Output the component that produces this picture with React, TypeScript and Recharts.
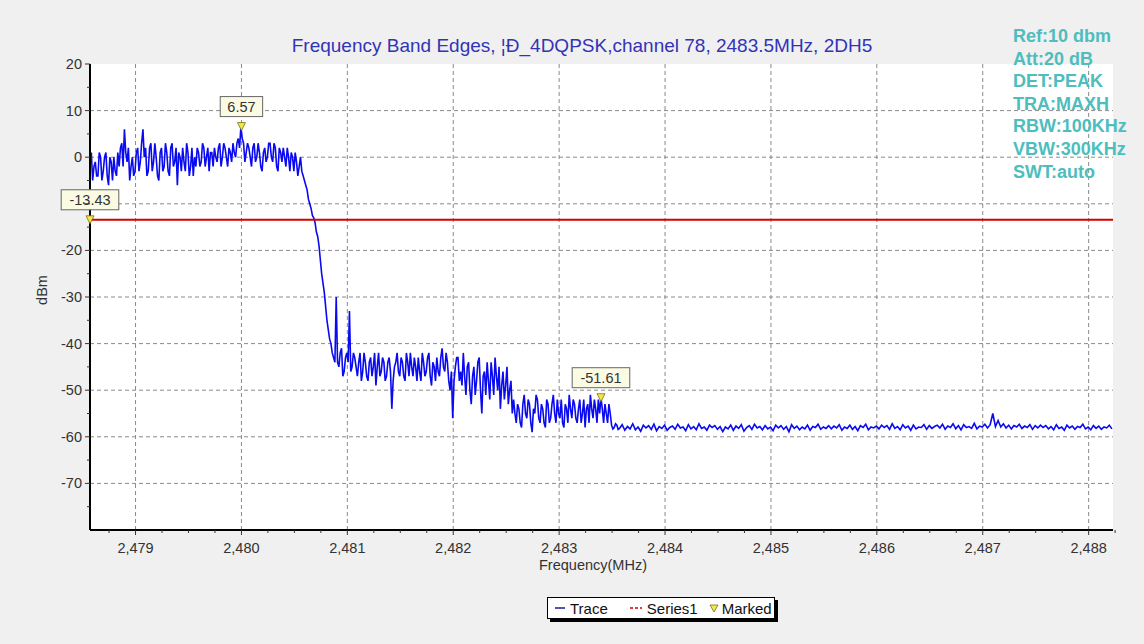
import React from 'react';
import { ComposedChart, Line, XAxis, YAxis, ReferenceLine, ReferenceDot, ReferenceArea } from 'recharts';

// sweep: fixed step spectrum analyzer points
const sweepStart = 2478.57;
const sweepStep = 0.025;

// trace values (dBm), 20 points per row (0.5 MHz)
const traceDbm = [
  -2, -5, -1, -4, 0, -3, 1, -6, -1, 0, -4, -2, 3, 6, -1, -5, 0, -3, 2, -1,
  6, 2, -3, 3, -1, 0, -5, 2, -2, 1, -4, 3, -1, -6, 0, 2, -3, 1, -2, -4,
  -2, 1, -1, 2, 0, -3, 1, 2, -1, 3, 0, 2, -2, 1, 3, 0, 4, 6.57, 3, 1,
  2, -2, 3, 0, 1, -3, 2, 0, 3, -1, 2, -3, 1, 2, -2, 0, 1, -3, -1, -2,
  -3, -5, -7, -10, -12.5, -14, -17, -22, -27, -32, -37, -40, -43, -30, -45, -41, -46, -42, -33, -45,
  -43, -47, -42, -46, -44, -48, -43, -45, -49, -42, -46, -44, -47, -43, -54, -45, -42, -47, -44, -48,
  -44, -42, -47, -45, -43, -48, -44, -46, -42, -49, -45, -43, -47, -41, -46, -44, -50, -56, -45, -43,
  -46, -42, -51, -44, -53, -45, -48, -43, -55, -46, -44, -52, -47, -43, -50, -54, -46, -49, -53, -48,
  -52, -57, -54, -58, -51, -56, -53, -59, -55, -52, -57, -54, -58, -53, -56, -51, -57, -55, -52, -58,
  -54, -51, -56, -53, -57, -52, -55, -58, -53, -51, -56, -54, -52, -51.61, -57, -55, -53, -57.5, -58, -57.5,
  -58.2, -57.4, -58.6, -57.8, -58.3, -57.2, -58.5, -57.9, -58.8, -57.5, -58.1, -57.6, -58.4, -57.3, -58.7, -57.8, -58.2, -57.5, -58.6, -58.0,
  -57.7, -58.4, -57.3, -58.1, -57.9, -58.7, -57.4, -58.3, -57.8, -58.5, -57.2, -58.2, -57.9, -58.6, -57.5, -58.0, -57.6, -58.4, -57.8, -58.9,
  -57.9, -58.3, -57.5, -58.6, -57.7, -58.2, -57.4, -58.8, -58.0, -57.6, -58.4, -57.3, -58.1, -57.8, -58.5, -57.6, -58.3, -57.9, -58.7, -57.5,
  -58.1, -57.6, -58.4, -57.8, -58.9, -57.4, -58.2, -57.7, -58.5, -57.9, -58.3, -57.5, -58.6, -57.8, -58.0, -57.3, -58.4, -57.9, -58.2, -57.6,
  -58.3, -57.7, -58.1, -57.4, -58.6, -57.9, -58.2, -57.5, -58.4, -57.8, -58.7, -57.6, -58.0, -57.3, -58.5, -57.9, -58.1, -57.7, -58.3, -57.5,
  -58.0, -57.6, -58.4, -57.2, -58.2, -57.8, -58.5, -57.4, -58.1, -57.7, -58.6, -57.5, -58.3, -57.9, -58.0, -57.4, -58.4, -57.6, -58.2, -57.8,
  -57.5, -58.1, -57.3, -58.4, -57.7, -58.0, -57.2, -58.3, -57.6, -58.5, -57.4, -58.0, -57.8, -58.2, -57.1, -58.3, -57.7, -57.9, -57.3, -58.1,
  -57.4, -55.0, -57.8, -56.5, -57.9, -57.2, -58.1, -57.5, -58.3, -57.6, -57.9, -57.3, -58.2, -57.7, -58.0, -57.4, -58.4, -57.6, -58.1, -57.5,
  -58.0, -57.6, -58.3, -57.8, -58.5, -57.4, -58.2, -57.9, -58.6, -57.5, -58.1, -57.7, -58.4, -57.8, -58.0, -57.3, -58.3, -57.9, -58.5, -57.6,
  -58.2, -57.7, -58.4, -57.9, -58.1, -57.5, -58.3,
];

// extra half-step readings in the noisy part (2478.58..2483.56 MHz), one between each pair above
const traceMidDbm = [
  1, -2, -4, 1, -5, 0, -4, 0, -5, -3, 1, 2, -2, 1, 2, -2, -4, 1, -3, 3,
  0, -4, 2, -3, 3, -4, 1, -3, 3, -3, 2, -2, 2, 1, -3, -1, 3, -4, 2, 0,
  2, -2, 3, -2, 2, 1, -2, 0, 2, -2, 3, 0, 2, -1, 1, 3, 2, 4, -1, 3,
  0, 2, -1, 3, -2, 1, -1, 3, 0, 3, -2, 2, -1, 0, 2, -3, 0, 1, -4, 0,
  -4, -6, -9, -11, -13, -16, -19, -25, -29, -35, -39, -42, -44, -44, -42, -47, -43, -44, -46, -42,
  -45, -44, -48, -42, -47, -44, -47, -42, -45, -47, -43, -48, -44, -46, -48, -44, -46, -43, -47, -42,
  -47, -45, -43, -48, -46, -42, -47, -43, -47, -44, -48, -46, -43, -45, -42, -48, -46, -48, -43, -48,
  -49, -47, -45, -50, -47, -51, -44, -50, -47, -51, -48, -44, -51, -47, -45, -49, -52, -45, -50, -55,
  -55, -53, -57, -53, -55, -52, -57, -54, -51, -56, -53, -57, -52, -57, -53, -55, -52, -56, -57, -53,
  -57, -54, -52, -56, -54, -57, -52, -54, -57, -54, -52, -57, -55, -54, -53, -57, -55, -58.3, -57.2, -58.4,
];

const limitDbm = -13.43;
const limitFreqs = [2478.57, 2488.23];

const markerFreqs = [2478.57, 2480.0, 2483.395];
const markerDbm = [-13.43, 6.57, -51.61];

const xMajor = [2479, 2480, 2481, 2482, 2483, 2484, 2485, 2486, 2487, 2488];
const xMinor = [
  2478.75, 2479.25, 2479.5, 2479.75, 2480.25, 2480.5, 2480.75, 2481.25, 2481.5, 2481.75,
  2482.25, 2482.5, 2482.75, 2483.25, 2483.5, 2483.75, 2484.25, 2484.5, 2484.75, 2485.25,
  2485.5, 2485.75, 2486.25, 2486.5, 2486.75, 2487.25, 2487.5, 2487.75, 2488.25,
];
const yMajor = [20, 10, 0, -10, -20, -30, -40, -50, -60, -70];
const yMinor = [15, 5, -5, -15, -25, -35, -45, -55, -65, -75];
// the -10 label sits under the -13.43 marker box in the original
const yHiddenLabels = [-10];

const infoLines = ['Ref:10 dbm', 'Att:20 dB', 'DET:PEAK', 'TRA:MAXH', 'RBW:100KHz', 'VBW:300KHz', 'SWT:auto'];

const FONT = 'Arial, "Liberation Sans", sans-serif';

const traceData = [
  ...traceDbm.map((v, i) => ({ f: sweepStart + i * sweepStep, v })),
  ...traceMidDbm.map((v, i) => ({ f: sweepStart + (i + 0.5) * sweepStep, v })),
].sort((a, b) => a.f - b.f);
const limitData = limitFreqs.map((f) => ({ f, v: limitDbm }));

const isMajorX = (v: number) => xMajor.some((m) => Math.abs(m - v) < 1e-6);
const isMajorY = (v: number) => yMajor.some((m) => Math.abs(m - v) < 1e-6);

const XTick = (props: any) => {
  const { x, y, payload } = props;
  const major = isMajorX(payload.value);
  return (
    <g>
      <line x1={x} x2={x} y1={y} y2={y + (major ? 5 : 3)} stroke="#333" strokeWidth={1} />
      {major && (
        <text x={x} y={y + 23} textAnchor="middle" fill="#333" fontSize={14.5} fontFamily={FONT}>
          {Math.round(payload.value).toLocaleString('en-US')}
        </text>
      )}
    </g>
  );
};

const YTick = (props: any) => {
  const { x, y, payload } = props;
  const major = isMajorY(payload.value);
  const showLabel = major && !yHiddenLabels.includes(payload.value);
  return (
    <g>
      <line x1={x} x2={x - (major ? 5 : 3)} y1={y} y2={y} stroke="#333" strokeWidth={1} />
      {showLabel && (
        <text x={x - 8} y={y + 5} textAnchor="end" fill="#333" fontSize={14.5} fontFamily={FONT}>
          {payload.value}
        </text>
      )}
    </g>
  );
};

const MarkerShape = (props: any) => {
  const { cx, cy, label } = props;
  const w = label.length * 7.6 + 12;
  return (
    <g>
      <rect x={cx - w / 2} y={cy - 30} width={w} height={20} fill="#fbfbe4" stroke="#666" strokeWidth={1} />
      <text x={cx} y={cy - 15} textAnchor="middle" fill="#333" fontSize={14.5} fontFamily={FONT}>
        {label}
      </text>
      <path d={`M${cx - 4},${cy - 4} L${cx + 4},${cy - 4} L${cx},${cy + 4} Z`} fill="#f2e84a" stroke="#776f10" strokeWidth={0.8} />
    </g>
  );
};

const LegendBox = () => (
  <div
    style={{
      position: 'absolute', left: 547, top: 597, width: 226, height: 20,
      background: '#fff', border: '1px solid #000', boxShadow: '3px 3px 0 #000',
      fontFamily: FONT, fontSize: 15, color: '#111', display: 'flex', alignItems: 'center',
    }}
  >
    <svg width={12} height={10} style={{ marginLeft: 6 }}><line x1={1} x2={11} y1={5} y2={5} stroke="#1a1aa0" strokeWidth={1.5} /></svg>
    <span style={{ marginLeft: 4 }}>Trace</span>
    <svg width={14} height={10} style={{ marginLeft: 21 }}><line x1={1} x2={13} y1={5} y2={5} stroke="#d00000" strokeWidth={1.5} strokeDasharray="3 2" /></svg>
    <span style={{ marginLeft: 4 }}>Series1</span>
    <svg width={10} height={10} style={{ marginLeft: 11 }}><path d="M1,2 L9,2 L5,9 Z" fill="#f2e84a" stroke="#776f10" strokeWidth={0.8} /></svg>
    <span style={{ marginLeft: 3 }}>Marked</span>
  </div>
);

export default function App() {
  return (
    <div style={{ position: 'absolute', left: 0, top: 0, width: 1144, height: 644, background: '#f0f0f0', overflow: 'hidden' }}>
      <ComposedChart width={1144} height={644} margin={{ top: 64, right: 31, bottom: 84, left: 0 }}>
        <ReferenceArea x1={2478.57} x2={2488.23} y1={-80} y2={20} fill="#ffffff" fillOpacity={1} stroke="none" ifOverflow="visible" />
        {xMajor.map((f) => (
          <ReferenceLine key={'gx' + f} x={f} stroke="#8a8a8a" strokeDasharray="4 3" strokeWidth={1} />
        ))}
        {yMajor.filter((v) => v !== 20).map((v) => (
          <ReferenceLine key={'gy' + v} y={v} stroke="#8a8a8a" strokeDasharray="4 3" strokeWidth={1} />
        ))}
        <XAxis
          type="number"
          dataKey="f"
          domain={[2478.57, 2488.23]}
          allowDataOverflow
          ticks={[...xMajor, ...xMinor].sort((a, b) => a - b)}
          interval={0}
          tick={<XTick />}
          tickLine={false}
          tickSize={0}
          tickMargin={0}
          height={30}
          axisLine={{ stroke: '#000', strokeWidth: 2 }}
        />
        <YAxis
          type="number"
          domain={[-80, 20]}
          allowDataOverflow
          ticks={[...yMajor, ...yMinor].sort((a, b) => b - a)}
          interval={0}
          tick={<YTick />}
          tickLine={false}
          tickSize={0}
          tickMargin={0}
          width={90}
          axisLine={{ stroke: '#000', strokeWidth: 2 }}
        />
        <Line
          data={traceData}
          dataKey="v"
          type="linear"
          stroke="#0a0af0"
          strokeWidth={1.6}
          dot={false}
          isAnimationActive={false}
        />
        <Line
          data={limitData}
          dataKey="v"
          type="linear"
          stroke="#d40000"
          strokeWidth={2}
          dot={false}
          isAnimationActive={false}
        />
        {markerFreqs.map((f, i) => (
          <ReferenceDot
            key={'m' + i}
            x={f}
            y={markerDbm[i]}
            r={4}
            ifOverflow="visible"
            shape={(p: any) => <MarkerShape {...p} label={markerDbm[i].toFixed(2)} />}
          />
        ))}
      </ComposedChart>

      <div style={{ position: 'absolute', left: 182, top: 35, width: 800, textAlign: 'center', fontFamily: FONT, fontSize: 19, color: '#3333b8', lineHeight: '22px' }}>
        Frequency Band Edges, ¦Đ_4DQPSK,channel 78, 2483.5MHz, 2DH5
      </div>

      <div style={{ position: 'absolute', left: 1013, top: 25, fontFamily: FONT, fontSize: 18, fontWeight: 'bold', color: '#4dbdbd', lineHeight: '22.6px' }}>
        {infoLines.map((t) => (
          <div key={t}>{t}</div>
        ))}
      </div>

      <div style={{ position: 'absolute', left: 42, top: 290, transform: 'translate(-50%, -50%) rotate(-90deg)', fontFamily: FONT, fontSize: 14.5, color: '#333' }}>
        dBm
      </div>
      <div style={{ position: 'absolute', left: 493, top: 557, width: 200, textAlign: 'center', fontFamily: FONT, fontSize: 14.5, color: '#333' }}>
        Frequency(MHz)
      </div>

      <LegendBox />
    </div>
  );
}
